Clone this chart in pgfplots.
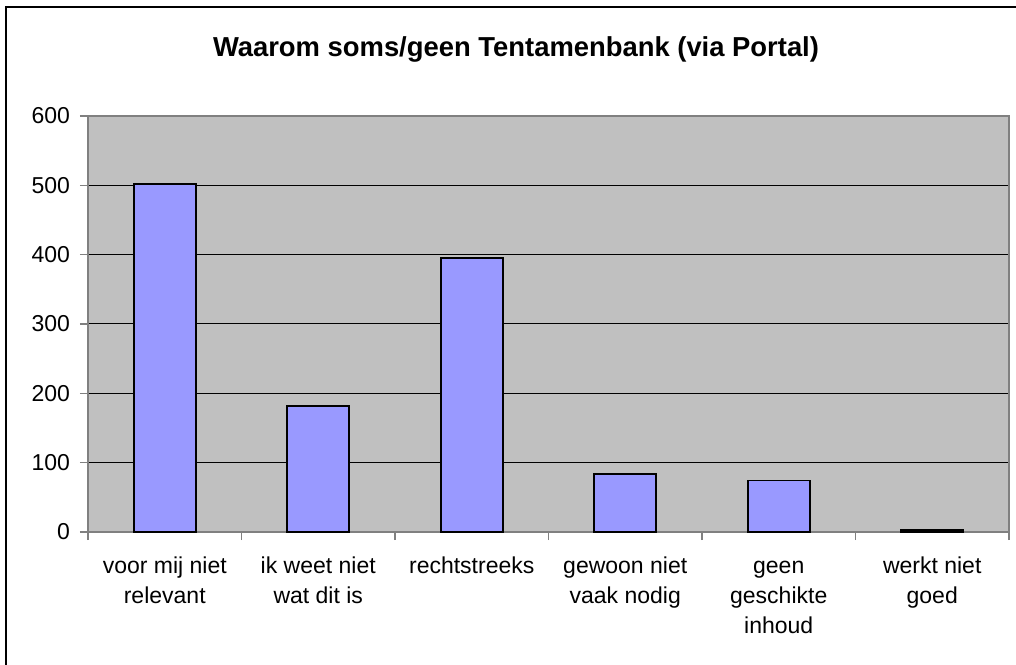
\documentclass[border=0pt]{standalone}
\usepackage{fontspec}
\setmainfont{Liberation Sans}
\usepackage{pgfplots}
\pgfplotsset{compat=1.18}
\definecolor{barfill}{HTML}{9999FF}
\definecolor{plotbg}{HTML}{C0C0C0}
\definecolor{axgray}{HTML}{808080}

\begin{document}
\begin{tikzpicture}[x=1pt,y=1pt]
\useasboundingbox (0,0) rectangle (508,332);
\draw[line width=1pt] (3,-5) -- (3,328.5) -- (520,328.5);
\node[font=\fontsize{13.7}{16}\selectfont\bfseries, anchor=base] at (258,303.5)
  {Waarom soms/geen Tentamenbank (via Portal)};
\begin{axis}[
  at={(44pt,66pt)}, anchor=south west,
  scale only axis, width=460.5pt, height=208pt,
  ybar, bar width=31pt,
  xmin=-0.5, xmax=5.5, ymin=0, ymax=600,
  ytick={0,100,...,600},
  xtick={-0.5,0.5,...,5.5},
  x tick label as interval,
  xticklabels={\strut voor mij niet\\relevant, \strut ik weet niet\\wat dit is,
               \strut rechtstreeks, \strut gewoon niet\\vaak nodig,
               \strut geen\\geschikte\\inhoud, \strut werkt niet\\goed},
  xtick pos=bottom, ytick pos=left, tick align=outside,
  major tick length=4pt,
  tick style={axgray, line width=0.6pt},
  axis background/.style={fill=plotbg},
  axis line style={axgray, line width=0.8pt},
  ymajorgrids, grid style={black, line width=0.5pt},
  /pgf/number format/assume math mode=true,
  tick label style={font=\fontsize{11.5}{15}\selectfont},
  xticklabel style={align=center, anchor=north, yshift=-2.5pt},
  yticklabel style={xshift=-1.5pt},
]
\addplot[fill=barfill, draw=black, line width=0.8pt]
  coordinates {(0,502) (1,182) (2,395) (3,84) (4,74) (5,3)};
\end{axis}
\end{tikzpicture}
\end{document}
